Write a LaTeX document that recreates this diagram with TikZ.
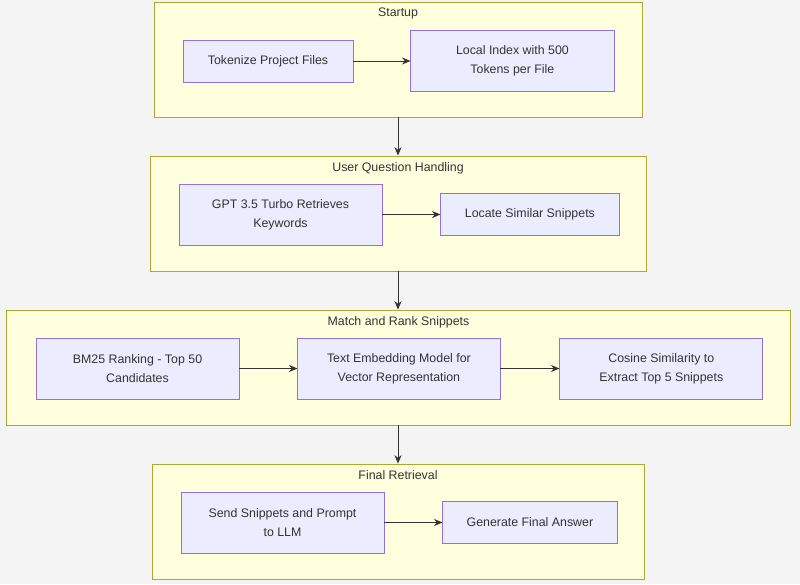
\documentclass[tikz,border=0pt]{standalone}
\usepackage{fontspec}
\setmainfont{Liberation Sans}
\usetikzlibrary{positioning, arrows.meta}
\definecolor{background}{HTML}{F4F4F4}
\definecolor{clusterfill}{HTML}{FFFFDE}
\definecolor{clusterline}{HTML}{AAAA33}
\definecolor{nodefill}{HTML}{ECECFF}
\definecolor{nodeline}{HTML}{9370DB}
\definecolor{textcol}{HTML}{333333}

\begin{document}
\begin{tikzpicture}[
        x=0.025cm, y=-0.025cm,
        font=\fontsize{8.8}{13.5}\selectfont,
        text=textcol,
        cluster/.style={rectangle, draw=clusterline, fill=clusterfill, line width=0.6pt, minimum height=2.875cm, inner sep=0pt},
        title/.style={inner sep=0pt, below=0.16cm of #1},
        process/.style={rectangle, draw=nodeline, fill=nodefill, line width=0.6pt, align=center, inner sep=0pt, minimum height=1.05cm},
        tall/.style={process, minimum height=1.525cm},
        arrow/.style={-{Stealth[length=6pt, width=5pt]}, draw=textcol, line width=0.6pt}
    ]

        % Background
        \fill[background] (0,0) rectangle (800,584);
        \useasboundingbox (0,0) rectangle (800,584);

        % Clusters
        \node [cluster, minimum width=12.2cm] (startup) at (398,59.5) {};
        \node [title=startup.north] (startup-t) {Startup};
        \node [cluster, minimum width=12.4cm] (question) at (398,213.5) {};
        \node [title=question.north] (question-t) {User Question Handling};
        \node [cluster, minimum width=19.575cm] (match) at (398.5,367.5) {};
        \node [title=match.north] (match-t) {Match and Rank Snippets};
        \node [cluster, minimum width=12.3cm] (final) at (398,521.5) {};
        \node [title=final.north] (final-t) {Final Retrieval};

        % Nodes
        \node [process, minimum width=4.25cm] (tokenize) at (268,61) {Tokenize Project Files};
        \node [tall, minimum width=5.075cm, right=1.425cm of tokenize] (index) {Local Index with 500\\Tokens per File};

        \node [tall, minimum width=5.075cm] (gpt) at (280.5,214.5) {GPT 3.5 Turbo Retrieves\\Keywords};
        \node [process, minimum width=4.45cm, right=1.45cm of gpt] (locate) {Locate Similar Snippets};

        \node [tall, minimum width=5.075cm] (bm25) at (137.5,368.5) {BM25 Ranking - Top 50\\Candidates};
        \node [tall, minimum width=5.05cm, right=1.45cm of bm25] (embed) {Text Embedding Model for\\Vector Representation};
        \node [tall, minimum width=5.075cm, right=1.475cm of embed] (cosine) {Cosine Similarity to\\Extract Top 5 Snippets};

        \node [tall, minimum width=5.075cm] (send) at (282.5,522.5) {Send Snippets and Prompt\\to LLM};
        \node [process, minimum width=4.35cm, right=1.45cm of send] (answer) {Generate Final Answer};

        % Edges
        \draw [arrow] (tokenize) -- (index);
        \draw [arrow] (gpt) -- (locate);
        \draw [arrow] (bm25) -- (embed);
        \draw [arrow] (embed) -- (cosine);
        \draw [arrow] (send) -- (answer);

        \draw [arrow] (startup.south) -- (question.north);
        \draw [arrow] (question.south) -- (match.north -| question.south);
        \draw [arrow] (match.south -| final.north) -- (final.north);

    \end{tikzpicture}
\end{document}
